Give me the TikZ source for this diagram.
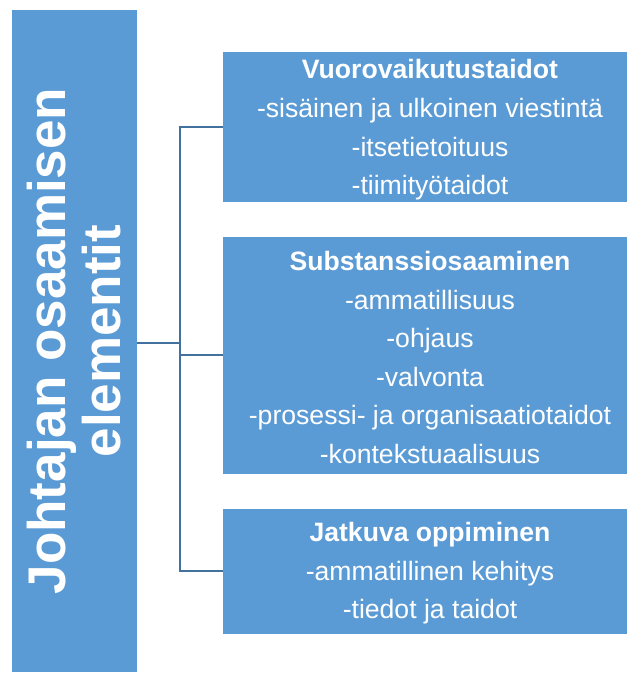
\documentclass[tikz,border=0pt]{standalone}
\usepackage{fontspec}
\setmainfont{Liberation Sans}
\usetikzlibrary{positioning}

\definecolor{skillFill}{RGB}{91,155,213}
\definecolor{skillLine}{RGB}{65,113,156}

\begin{document}
\begin{tikzpicture}[x=1pt, y=1pt,
  skillbox/.style={fill=skillFill, minimum width=404, inner sep=0pt},
  skilltext/.style={text=white, inner sep=0pt, align=center,
    font=\fontsize{26.6}{38.6}\selectfont},
  leadbox/.style={fill=skillFill, text=white, inner sep=0pt, align=center,
    font=\fontsize{53}{55}\selectfont\bfseries},
  conn/.style={skillLine, line width=2pt}]
\useasboundingbox (0,0) rectangle (628,673);
%% Left: rotated heading box
\node[leadbox, rotate=90, minimum width=662, minimum height=125] (lead) at (74.5,332)
  {Johtajan osaamisen\\elementit};
%% Right: the three skill groups
\node[skillbox, minimum height=150] (inter) at (425,546) {};
\node[skillbox, minimum height=237] (subst) at (425,317.5) {};
\node[skillbox, minimum height=125] (learn) at (425,101.5) {};
\node[skilltext] (interT) at ([shift={(5,-3)}]inter.center)
  {\textbf{Vuorovaikutustaidot}\\-sisäinen ja ulkoinen viestintä\\-itsetietoituus\\-tiimityötaidot};
\node[skilltext] (substT) at ([shift={(5,-2)}]subst.center)
  {\textbf{Substanssiosaaminen}\\-ammatillisuus\\-ohjaus\\-valvonta\\-prosessi- ja organisaatiotaidot\\-kontekstuaalisuus};
\node[skilltext] (learnT) at ([shift={(5,-2)}]learn.center)
  {\textbf{Jatkuva oppiminen}\\-ammatillinen kehitys\\-tiedot ja taidot};
%% Bracket connectors
\coordinate (bus) at (180,0);
\draw[conn] ([yshift=-2pt]lead.south) -- ([yshift=-2pt]lead.south -| bus);
\draw[conn] (inter.west) -- (inter.west -| bus) -- (learn.west -| bus) -- (learn.west);
\draw[conn] (subst.west) -- (subst.west -| bus);
\end{tikzpicture}
\end{document}
